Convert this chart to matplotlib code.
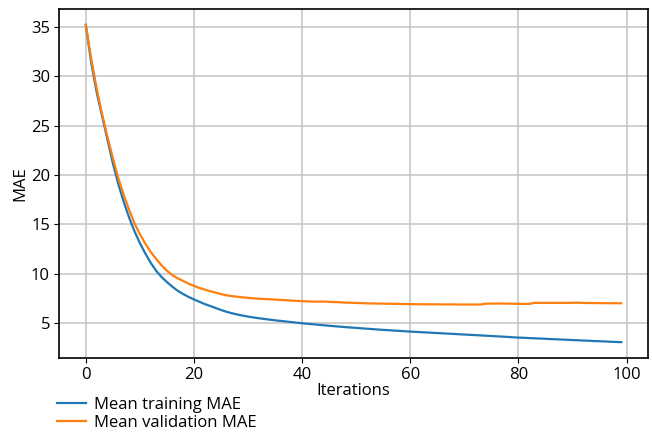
import matplotlib
matplotlib.use("Agg")
import matplotlib.pyplot as plt

plt.rcParams['font.family'] = ['Open Sans', 'DejaVu Sans']
plt.rcParams['font.size'] = 12

iterations = list(range(100))

train_mae = [
    35.2, 31.4, 28.4, 26.0, 23.6, 21.2, 19.1, 17.3, 15.7, 14.3,
    13.1, 12.05, 11.1, 10.3, 9.66, 9.15, 8.68, 8.26, 7.93, 7.64,
    7.39, 7.15, 6.92, 6.72, 6.52, 6.32, 6.14, 5.99, 5.86, 5.75,
    5.65, 5.56, 5.48, 5.41, 5.34, 5.27, 5.21, 5.15, 5.09, 5.03,
    4.97, 4.92, 4.87, 4.82, 4.77, 4.72, 4.67, 4.63, 4.58, 4.54,
    4.50, 4.46, 4.42, 4.38, 4.34, 4.30, 4.27, 4.23, 4.20, 4.16,
    4.13, 4.10, 4.07, 4.04, 4.01, 3.98, 3.95, 3.92, 3.89, 3.86,
    3.83, 3.80, 3.77, 3.74, 3.71, 3.68, 3.65, 3.62, 3.59, 3.55,
    3.52, 3.50, 3.47, 3.45, 3.42, 3.40, 3.37, 3.35, 3.32, 3.30,
    3.27, 3.25, 3.22, 3.20, 3.17, 3.15, 3.13, 3.10, 3.08, 3.06,
]

val_mae = [
    35.2, 31.8, 28.8, 26.2, 23.9, 21.7, 19.7, 18.0, 16.5, 15.1,
    14.0, 13.05, 12.2, 11.5, 10.85, 10.3, 9.85, 9.53, 9.25, 8.98,
    8.76, 8.55, 8.38, 8.22, 8.08, 7.93, 7.80, 7.72, 7.66, 7.60,
    7.55, 7.50, 7.46, 7.43, 7.40, 7.37, 7.34, 7.31, 7.27, 7.24,
    7.21, 7.19, 7.17, 7.16, 7.17, 7.14, 7.12, 7.10, 7.06, 7.05,
    7.03, 7.01, 6.99, 6.98, 6.97, 6.96, 6.95, 6.94, 6.93, 6.92,
    6.91, 6.90, 6.90, 6.89, 6.89, 6.89, 6.88, 6.88, 6.88, 6.87,
    6.87, 6.87, 6.87, 6.87, 6.96, 6.96, 6.97, 6.97, 6.96, 6.95,
    6.94, 6.93, 6.94, 7.04, 7.04, 7.04, 7.04, 7.04, 7.04, 7.04,
    7.05, 7.06, 7.03, 7.02, 7.02, 7.01, 7.01, 7.00, 7.00, 7.00,
]

fig = plt.figure(figsize=(6.52, 4.34), dpi=100)
ax = fig.add_axes([59 / 652, 1 - 358 / 434, 589 / 652, 349 / 434])

ax.plot(iterations, train_mae, color='#1f77b4', lw=1.6, label='Mean training MAE')
ax.plot(iterations, val_mae, color='#ff7f0e', lw=1.6, label='Mean validation MAE')

ax.grid(True, color='#c4c4c4', lw=1.1)
ax.set_axisbelow(True)
ax.set_xlabel('Iterations', labelpad=0)
ax.set_ylabel('MAE', labelpad=2)
ax.set_xticks([0, 20, 40, 60, 80, 100])
ax.set_yticks([5, 10, 15, 20, 25, 30, 35])
ax.tick_params(pad=3)
for s in ax.spines.values():
    s.set_linewidth(1.2)

fig.legend(loc='upper left', bbox_to_anchor=(57 / 652, 1 - 397 / 434),
           frameon=False, borderpad=0, borderaxespad=0,
           handlelength=1.75, handletextpad=0.5, labelspacing=0.1)

fig.savefig('out.png', dpi=100)
